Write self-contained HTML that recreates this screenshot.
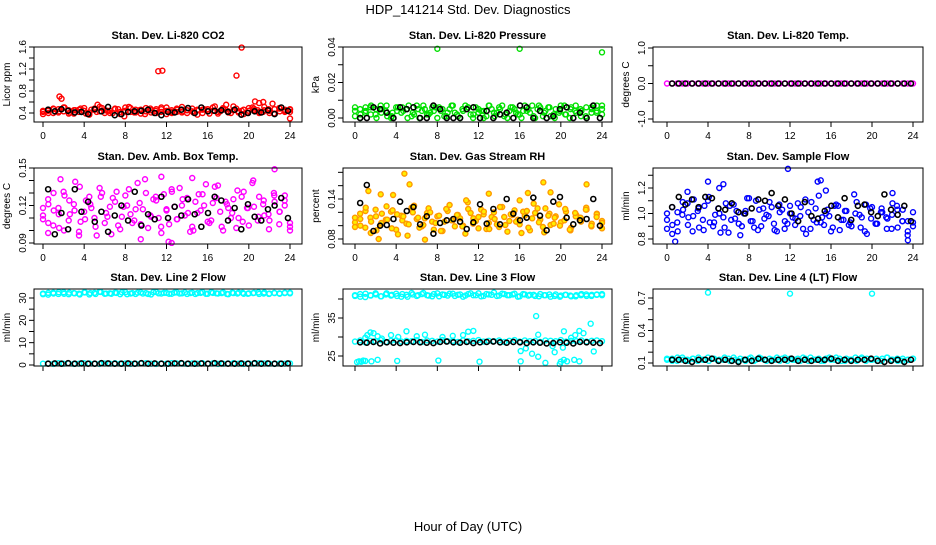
<!DOCTYPE html>
<html><head><meta charset="utf-8"><style>
html,body{margin:0;padding:0;background:#fff;}
svg text{font-family:"Liberation Sans",Arial,sans-serif;}
</style></head><body>
<svg id="chart" width="936" height="540" viewBox="0 0 936 540" xmlns="http://www.w3.org/2000/svg">
<rect width="936" height="540" fill="#fff"/>
<text x="468" y="14" font-size="13" text-anchor="middle">HDP_141214  Std. Dev. Diagnostics</text>
<text x="468" y="531" font-size="13" text-anchor="middle">Hour of Day (UTC)</text>
</svg>
<script>
// ---- data ----
const xTicks = [0,4,8,12,16,20,24];
const co2RedA = [0.42,0.46,0.40,0.47,0.43,0.45,0.39,0.46,0.44,0.41,0.48,0.43,0.45,0.40,0.47,0.42,0.44,0.49,0.41,0.46,0.43,0.45,0.40,0.47,0.44,0.42,0.48,0.41,0.45,0.43,0.46,0.40,0.47,0.44,0.42,0.49,0.43,0.45,0.41,0.46,0.44,0.48,0.42,0.45,0.40,0.47,0.43,0.46,0.42];
const co2RedB = [0.38,0.44,0.48,0.41,0.50,0.39,0.45,0.42,0.49,0.37,0.46,0.51,0.40,0.44,0.48,0.38,0.50,0.42,0.46,0.39,0.49,0.41,0.47,0.50,0.38,0.45,0.42,0.51,0.40,0.48,0.37,0.46,0.44,0.50,0.39,0.47,0.41,0.52,0.43,0.38,0.49,0.45,0.40,0.51,0.44,0.39,0.48,0.42,0.47];
const co2RedC = [0.44,0.40,0.47,0.43,0.50,0.41,0.45,0.48,0.39,0.46,0.42,0.49,0.44,0.40,0.47,0.43,0.51,0.41,0.45,0.38,0.48,0.44,0.42,0.50,0.40,0.46,0.43,0.49,0.41,0.45,0.47,0.39,0.52,0.43,0.46,0.40,0.48,0.44,0.41,0.50,0.45,0.42,0.47,0.39,0.49,0.44,0.46];
const co2Outliers = [[1.6,0.70],[1.8,0.66],[11.2,1.16],[11.6,1.17],[18.8,1.08],[19.3,1.59],[20.6,0.61],[21.0,0.58],[21.4,0.60],[22.3,0.57],[17.8,0.55],[24.0,0.30],[5.3,0.55],[7.9,0.34]];
const co2Black = [0.46,0.43,0.47,0.44,0.41,0.42,0.38,0.47,0.43,0.51,0.36,0.38,0.42,0.43,0.44,0.46,0.40,0.36,0.42,0.41,0.46,0.49,0.40,0.50,0.43,0.44,0.45,0.42,0.46,0.37,0.40,0.43,0.41,0.45,0.38,0.50,0.44];

const presGreenA = [0.001,0.005,0.003,0.006,0.002,0.007,0.004,0.000,0.006,0.003,0.005,0.001,0.007,0.004,0.002,0.006,0.000,0.005,0.003,0.007,0.001,0.004,0.006,0.002,0.005,0.000,0.007,0.003,0.006,0.001,0.004,0.005,0.002,0.007,0.003,0.000,0.006,0.004,0.001,0.005,0.007,0.002,0.006,0.003,0.004,0.000,0.005,0.007,0.002];
const presGreenB = [0.004,0.000,0.006,0.002,0.005,0.003,0.007,0.001,0.004,0.006,0.000,0.003,0.005,0.007,0.002,0.004,0.006,0.001,0.005,0.003,0.000,0.007,0.002,0.006,0.004,0.001,0.005,0.003,0.007,0.000,0.006,0.002,0.004,0.005,0.001,0.007,0.003,0.006,0.000,0.004,0.002,0.005,0.007,0.001,0.006,0.003,0.004,0.005];
const presGreenC = [0.006,0.002,0.004,0.007,0.000,0.005,0.001,0.003,0.006,0.004,0.007,0.002,0.000,0.005,0.003,0.006,0.004,0.001,0.007,0.002,0.005,0.006,0.000,0.003,0.004,0.007,0.001,0.005,0.002,0.006,0.003,0.000,0.004,0.007,0.005,0.001,0.006,0.002,0.003,0.007,0.000,0.004,0.005,0.001,0.006,0.003,0.007];
const presOutliers = [[8,0.039],[16,0.039],[24,0.037]];
const presBlack = [0.000,0.000,0.006,0.005,0.003,0.000,0.006,0.005,0.006,0.000,0.000,0.007,0.005,0.000,0.000,0.000,0.005,0.006,0.000,0.004,0.000,0.002,0.003,0.000,0.007,0.006,0.000,0.004,0.000,0.001,0.005,0.006,0.000,0.003,0.000,0.007,0.000];

const tempMagenta = [0,0,0,0,0,0,0,0,0,0,0,0,0,0,0,0,0,0,0,0,0,0,0,0,0,0,0,0,0,0,0,0,0,0,0,0,0,0,0,0,0,0,0,0,0,0,0,0,0];
const tempBlack = [0,0,0,0,0,0,0,0,0,0,0,0,0,0,0,0,0,0,0,0,0,0,0,0,0,0,0,0,0,0,0,0,0,0,0,0,0];

const ambA = [0.112,0.125,0.104,0.118,0.131,0.108,0.121,0.099,0.115,0.127,0.110,0.134,0.106,0.119,0.123,0.101,0.128,0.113,0.117,0.105,0.130,0.111,0.124,0.098,0.116,0.133,0.109,0.120,0.126,0.103,0.114,0.129,0.107,0.122,0.136,0.100,0.118,0.125,0.110,0.131,0.104,0.119,0.127,0.112,0.108,0.123,0.115,0.128,0.103];
const ambB = [0.118,0.106,0.130,0.113,0.100,0.124,0.116,0.135,0.109,0.121,0.103,0.127,0.114,0.097,0.131,0.111,0.120,0.106,0.138,0.117,0.102,0.125,0.110,0.129,0.105,0.119,0.134,0.112,0.099,0.123,0.116,0.137,0.108,0.126,0.103,0.121,0.114,0.132,0.107,0.118,0.140,0.111,0.124,0.101,0.128,0.115,0.120,0.106];
const ambC = [0.109,0.121,0.116,0.102,0.128,0.113,0.139,0.107,0.124,0.118,0.096,0.130,0.111,0.126,0.104,0.119,0.133,0.108,0.122,0.141,0.112,0.127,0.103,0.117,0.131,0.109,0.125,0.114,0.100,0.129,0.120,0.106,0.135,0.115,0.123,0.110,0.102,0.127,0.118,0.138,0.108,0.121,0.113,0.130,0.105,0.124,0.100];
const ambOutliers = [[1.7,0.141],[12.2,0.091],[12.5,0.090],[22.5,0.149],[11.5,0.143],[9.5,0.093],[3.5,0.096],[14.5,0.142],[0.5,0.098]];
const ambBlack = [0.133,0.097,0.114,0.101,0.133,0.115,0.123,0.107,0.115,0.099,0.112,0.120,0.108,0.131,0.104,0.113,0.109,0.127,0.110,0.119,0.112,0.125,0.113,0.103,0.114,0.127,0.124,0.108,0.118,0.101,0.121,0.111,0.108,0.117,0.120,0.126,0.110];

const rhA = [0.105,0.118,0.097,0.112,0.124,0.101,0.109,0.121,0.094,0.115,0.103,0.127,0.110,0.099,0.119,0.106,0.114,0.092,0.122,0.108,0.116,0.100,0.125,0.111,0.096,0.117,0.104,0.120,0.098,0.113,0.107,0.123,0.102,0.115,0.093,0.119,0.109,0.126,0.101,0.114,0.105,0.121,0.097,0.116,0.110,0.124,0.103,0.118,0.107];
const rhB = [0.098,0.110,0.122,0.089,0.114,0.104,0.129,0.096,0.117,0.108,0.085,0.120,0.112,0.101,0.126,0.094,0.115,0.106,0.131,0.099,0.111,0.088,0.119,0.107,0.124,0.095,0.113,0.102,0.128,0.091,0.116,0.109,0.121,0.097,0.133,0.105,0.090,0.118,0.112,0.100,0.125,0.093,0.114,0.106,0.127,0.099,0.117,0.104];
const rhC = [0.112,0.100,0.127,0.106,0.093,0.118,0.109,0.123,0.087,0.114,0.102,0.130,0.097,0.111,0.120,0.104,0.092,0.125,0.108,0.116,0.099,0.135,0.103,0.113,0.121,0.095,0.110,0.128,0.101,0.117,0.106,0.089,0.122,0.111,0.126,0.098,0.115,0.103,0.132,0.108,0.094,0.119,0.112,0.124,0.100,0.113,0.096];
const rhOutliers = [[4.8,0.178],[1.3,0.152],[5.3,0.162],[3.7,0.146],[18.3,0.165],[22.5,0.162],[19.0,0.150],[2.5,0.147],[13.0,0.148],[10.8,0.138],[16.0,0.138],[16.8,0.149],[2.3,0.080],[6.8,0.079]];
const rhBlack = [0.134,0.161,0.092,0.100,0.101,0.110,0.136,0.122,0.128,0.102,0.114,0.088,0.104,0.108,0.110,0.106,0.095,0.105,0.132,0.103,0.125,0.102,0.140,0.118,0.108,0.112,0.142,0.115,0.093,0.136,0.143,0.112,0.102,0.108,0.110,0.140,0.100];

const flowA = [0.88,1.05,0.93,0.99,1.08,0.86,1.02,0.95,1.10,0.90,1.04,0.97,0.85,1.07,0.92,1.00,1.12,0.89,1.03,0.96,1.09,0.87,1.01,0.94,1.06,0.91,0.98,1.11,0.88,1.04,0.93,1.00,0.86,1.07,0.95,1.02,0.90,1.09,0.97,0.84,1.05,0.92,1.01,0.96,1.08,0.89,1.03,0.94,0.90];
const flowB = [0.95,0.84,1.01,1.09,0.91,0.98,1.04,0.87,1.13,0.93,1.00,0.89,1.06,0.96,0.83,1.02,0.94,1.10,0.90,0.99,1.05,0.86,1.03,0.92,0.97,1.08,0.88,1.01,0.95,1.14,0.91,0.98,1.06,0.87,1.02,0.93,1.00,0.89,1.07,0.96,0.92,1.04,0.88,0.99,1.03,0.94,0.86,1.01];
const flowC = [1.00,0.91,0.86,1.03,0.97,1.11,0.89,1.06,0.93,0.99,0.85,1.08,0.95,1.02,0.90,1.12,0.94,0.87,1.04,0.98,0.92,1.07,0.88,1.00,0.96,1.05,0.84,1.09,0.93,0.97,1.03,0.89,1.06,0.95,0.91,1.15,0.99,0.86,1.04,0.92,1.01,0.97,0.88,1.06,0.94,0.83,0.93];
const flowOutliers = [[4.0,1.25],[5.5,1.23],[15.0,1.26],[14.7,1.25],[11.8,1.35],[5.1,1.20],[2.0,1.17],[0.8,0.78],[23.5,0.79],[22.0,1.16],[15.5,1.18]];
const flowBlack = [1.05,1.13,1.07,1.11,1.05,1.13,1.12,1.04,1.03,1.08,1.01,1.00,1.04,1.11,1.10,1.16,1.06,1.11,1.00,0.94,1.09,0.98,0.96,1.02,1.06,0.97,1.12,0.95,1.06,1.07,1.01,0.98,1.15,1.03,0.99,1.06,0.94];

const line2TopA = [32.0,31.5,32.4,31.8,32.6,31.7,32.2,31.9,32.5,31.6,32.3,32.8,31.9,32.1,32.4,31.7,32.6,32.0,31.8,32.5,32.2,31.6,32.7,32.0,32.3,31.9,32.5,32.1,31.8,32.4,32.2,32.6,31.9,32.3,32.0,32.5,31.7,32.2,32.4,31.9,32.1,32.3,31.8,32.5,32.0,32.2,31.9,32.4,32.1];
const line2TopB = [31.7,32.3,32.0,32.6,31.9,32.4,32.1,31.6,32.5,32.2,31.8,32.7,32.0,31.9,32.3,32.5,31.7,32.2,32.4,32.0,31.8,32.6,32.1,32.3,31.9,32.4,32.0,32.5,32.2,31.8,32.3,31.9,32.6,32.1,32.2,31.8,32.4,32.0,32.3,31.9,32.2,32.5,32.0,31.8,32.3,32.1,32.2,32.4];
const line2Bottom = [0.6,0.7,0.5,0.8,0.6,0.7,0.5,0.6,0.8,0.7,0.6,0.5,0.7,0.6,0.8,0.6,0.7,0.5,0.6,0.7,0.8,0.6,0.5,0.7,0.6,0.8,0.7,0.6,0.5,0.7,0.6,0.8,0.6,0.7,0.5,0.6,0.7,0.8,0.6,0.5,0.7,0.6,0.8,0.7,0.6,0.5,0.7,0.6,0.7];
const line2Black = [0.6,0.7,0.6,0.8,0.6,0.7,0.6,0.6,0.8,0.7,0.6,0.6,0.7,0.6,0.8,0.6,0.7,0.6,0.6,0.7,0.8,0.6,0.6,0.7,0.6,0.8,0.7,0.6,0.6,0.7,0.6,0.8,0.6,0.7,0.6,0.6,0.7];

const line3TopA = [40.8,41.3,40.5,41.0,41.5,40.7,41.2,40.9,41.4,40.6,41.1,41.6,40.8,41.3,41.0,40.7,41.5,41.2,40.9,41.4,41.1,40.6,41.3,41.0,41.5,40.8,41.2,41.7,40.9,41.3,41.0,41.4,40.7,41.2,41.1,40.8,41.3,41.0,40.6,41.2,40.9,41.1,40.7,41.0,41.3,40.8,41.1,41.2,41.0];
const line3TopB = [41.0,40.6,41.4,40.9,41.2,40.7,41.5,41.1,40.8,41.3,40.6,41.2,41.0,41.6,40.9,41.3,40.7,41.1,41.4,40.8,41.2,40.9,41.5,41.0,40.7,41.3,41.1,40.8,41.4,41.0,41.2,40.6,41.3,40.9,41.1,40.7,41.0,41.2,40.8,40.6,41.1,40.9,40.7,41.0,41.2,40.8,41.1,41.3];
const line3Mid = [28.8,29.1,28.6,29.0,28.9,29.2,28.7,29.0,29.1,28.8,29.0,28.9,29.2,28.7,29.1,29.0,28.8,29.2,28.9,29.0,28.7,29.1,28.9,29.0,29.2,28.8,29.0,28.9,29.1,28.7,29.0,29.2,28.8,29.1,28.9,29.0,28.7,29.1,29.0,28.9,29.2,28.8,29.0,28.9,29.1,28.8,29.0,29.1,28.9];
const line3Scatter = [[1.2,30.5],[1.5,31.2],[1.8,31.0],[2.2,30.2],[1.0,29.8],[2.6,29.6],[3.5,30.5],[4.2,30.0],[5.0,31.5],[6.0,30.2],[6.8,30.6],[8.5,30.0],[9.5,30.3],[10.5,30.5],[11.0,31.4],[11.5,31.6],[17.6,35.5],[17.8,30.6],[16.1,26.3],[16.6,27.0],[17.2,25.6],[17.8,24.8],[18.5,23.2],[19.2,27.6],[19.4,26.0],[20.2,27.2],[20.3,31.5],[21.0,29.8],[21.4,30.5],[21.8,31.6],[22.2,31.0],[22.9,33.5],[23.2,26.2]];
const line3Low = [[0.2,23.4],[0.4,23.6],[0.6,23.5],[0.8,23.8],[1.0,23.7],[1.6,23.6],[2.2,24.0],[4.1,23.7],[8.1,23.8],[12.1,23.5],[16.1,23.6],[19.9,22.9],[20.0,23.5],[20.3,24.0],[20.6,23.6],[21.3,24.0],[21.8,23.6]];
const line3Black = [28.6,28.5,28.7,28.3,28.6,28.5,28.4,28.6,28.7,28.6,28.5,28.4,28.7,28.8,28.6,28.5,28.7,28.4,28.6,28.7,28.8,28.6,28.5,28.7,28.6,28.4,28.6,28.5,28.3,28.4,28.6,28.5,28.3,28.7,28.6,28.5,28.4];

const line4A = [0.13,0.14,0.12,0.15,0.13,0.14,0.12,0.13,0.15,0.14,0.12,0.13,0.14,0.15,0.12,0.13,0.14,0.12,0.15,0.13,0.14,0.13,0.12,0.15,0.14,0.13,0.12,0.14,0.15,0.13,0.12,0.14,0.13,0.15,0.12,0.14,0.13,0.12,0.15,0.14,0.13,0.12,0.14,0.15,0.13,0.12,0.14,0.13,0.14];
const line4B = [0.14,0.12,0.15,0.13,0.12,0.14,0.15,0.13,0.12,0.14,0.13,0.15,0.12,0.13,0.14,0.12,0.15,0.13,0.14,0.12,0.13,0.15,0.14,0.12,0.13,0.14,0.15,0.12,0.13,0.14,0.12,0.15,0.13,0.14,0.12,0.13,0.15,0.14,0.12,0.13,0.14,0.12,0.15,0.13,0.14,0.12,0.13,0.14];
const line4Outliers = [[4,0.75],[12,0.74],[20,0.74]];
const line4Black = [0.13,0.13,0.12,0.11,0.13,0.13,0.14,0.12,0.13,0.12,0.11,0.13,0.12,0.14,0.13,0.12,0.13,0.13,0.14,0.12,0.13,0.12,0.13,0.13,0.14,0.12,0.13,0.12,0.13,0.13,0.14,0.12,0.11,0.12,0.13,0.11,0.13];

// ---- layout (not data) ----
const NS = "http://www.w3.org/2000/svg";
const svg = document.getElementById('chart');
function el(tag, attrs, parent){
  const e = document.createElementNS(NS, tag);
  for (const k in attrs) e.setAttribute(k, attrs[k]);
  (parent||svg).appendChild(e);
  return e;
}
const cols = [{l:34,r:302,x0:43,x24:290},{l:343,r:612,x0:355,x24:602},{l:653,r:923,x0:667,x24:913}];
const rows = [{t:47,b:122},{t:168,b:244},{t:289,b:366}];

function drawPanel(p){
  const c = cols[p.col], rw = rows[p.row];
  const g = el('g', {});
  
  
  const xs = h => c.x0 + h/24*(c.x24-c.x0);
  const ys = v => p.ref[1] + (v-p.ref[0])/(p.ref[2]-p.ref[0])*(p.ref[3]-p.ref[1]);
  const title = el('text', {x:(c.l+c.r)/2, y:rw.t-8, 'font-size':11, 'font-weight':'bold', 'text-anchor':'middle'}, g);
  title.textContent = p.title;
  
  
  const yl = el('text', {x:c.l-24, y:(rw.t+rw.b)/2, 'font-size':10, 'text-anchor':'middle', transform:`rotate(-90 ${c.l-24} ${(rw.t+rw.b)/2})`}, g);
  yl.textContent = p.ylab;
  
  
  // x axis
  const xa = el('g', {}, g);
  
  
  el('line', {x1:xs(xTicks[0]), x2:xs(xTicks[xTicks.length-1]), y1:rw.b, y2:rw.b, stroke:'#000'}, xa);
  xTicks.forEach(t => {
    el('line', {x1:xs(t), x2:xs(t), y1:rw.b, y2:rw.b+5, stroke:'#000'}, xa);
    if (p.row < 2){
      const tx = el('text', {x:xs(t), y:rw.b+17, 'font-size':10, 'text-anchor':'middle'}, xa);
      tx.textContent = t;
      
      
    }
  });
  // y axis
  const ya = el('g', {}, g);
  
  
  p.yticks.forEach(t => el('line', {x1:c.l-5, x2:c.l, y1:ys(t), y2:ys(t), stroke:'#000'}, ya));
  p.ylabels.forEach(t => {
    const y = ys(t);
    const tx = el('text', {x:c.l-8, y:y, 'font-size':10, 'text-anchor':'middle', transform:`rotate(-90 ${c.l-8} ${y})`}, ya);
    tx.textContent = t.toFixed(p.dec);
    
    
  });
  // points
  const clip = 'clip'+p.name;
  const cp = el('clipPath', {id:clip}, g);
  el('rect', {x:c.l, y:rw.t-4, width:c.r-c.l+4, height:rw.b-rw.t+6}, cp);
  const pts = el('g', {'clip-path':`url(#${clip})`}, g);
  function dot(h, v, color, fill, sw, name){
    const ci = el('circle', {cx:xs(h), cy:ys(v), r:2.5, fill:fill, stroke:color, 'stroke-width':sw}, pts);
    
    
  }
  p.series.forEach(s => {
    s.vals.forEach((v,i) => dot(i*24/(s.vals.length-1), v, p.color, p.fill, 1.4, 'data-point'));
  });
  (p.extra||[]).forEach(arr => arr.forEach(d => dot(d[0], d[1], p.color, p.fill, 1.4, 'outlier-point')));
  p.black.forEach((v,i) => dot(0.5 + i*23.3/(p.black.length-1), v, '#000', 'none', 1.6, 'mean-point'));
  // box
  const bx = el('rect', {x:c.l, y:rw.t, width:c.r-c.l, height:rw.b-rw.t, fill:'none', stroke:'#000'}, g);
  
  
}

drawPanel({name:'panel-co2', col:0,row:0,title:'Stan. Dev. Li-820 CO2',ylab:'Licor ppm',ref:[0.4,113,1.6,47],
  yticks:[0.4,0.6,0.8,1.0,1.2,1.4,1.6], ylabels:[0.4,0.8,1.2,1.6], dec:1, color:'#ff0000', fill:'none',
  series:[{vals:co2RedA},{vals:co2RedB},{vals:co2RedC}], extra:[co2Outliers], black:co2Black});
drawPanel({name:'panel-pressure', col:1,row:0,title:'Stan. Dev. Li-820 Pressure',ylab:'kPa',ref:[0,118,0.04,47],
  yticks:[0,0.01,0.02,0.03,0.04], ylabels:[0,0.02,0.04], dec:2, color:'#00e000', fill:'none',
  series:[{vals:presGreenA},{vals:presGreenB},{vals:presGreenC}], extra:[presOutliers], black:presBlack});
drawPanel({name:'panel-temp', col:2,row:0,title:'Stan. Dev. Li-820 Temp.',ylab:'degrees C',ref:[-1,119,1,48],
  yticks:[-1,-0.5,0,0.5,1], ylabels:[-1,0,1], dec:1, color:'#ff00ff', fill:'none',
  series:[{vals:tempMagenta}], extra:[], black:tempBlack});
drawPanel({name:'panel-ambbox', col:0,row:1,title:'Stan. Dev. Amb. Box Temp.',ylab:'degrees C',ref:[0.09,243,0.15,168],
  yticks:[0.09,0.10,0.11,0.12,0.13,0.14,0.15], ylabels:[0.09,0.12,0.15], dec:2, color:'#ff00ff', fill:'none',
  series:[{vals:ambA},{vals:ambB},{vals:ambC}], extra:[ambOutliers], black:ambBlack});
drawPanel({name:'panel-rh', col:1,row:1,title:'Stan. Dev. Gas Stream RH',ylab:'percent',ref:[0.08,239,0.14,199],
  yticks:[0.08,0.10,0.12,0.14,0.16,0.18], ylabels:[0.08,0.14], dec:2, color:'#ff9900', fill:'#ffee00',
  series:[{vals:rhA},{vals:rhB},{vals:rhC}], extra:[rhOutliers], black:rhBlack});
drawPanel({name:'panel-sampleflow', col:2,row:1,title:'Stan. Dev. Sample Flow',ylab:'ml/min',ref:[0.8,239,1.2,188],
  yticks:[0.8,0.9,1.0,1.1,1.2,1.3], ylabels:[0.8,1.0,1.2], dec:1, color:'#0000ff', fill:'none',
  series:[{vals:flowA},{vals:flowB},{vals:flowC}], extra:[flowOutliers], black:flowBlack});
drawPanel({name:'panel-line2', col:0,row:2,title:'Stan. Dev. Line 2 Flow',ylab:'ml/min',ref:[0,365,30,298],
  yticks:[0,5,10,15,20,25,30], ylabels:[0,10,20,30], dec:0, color:'#00ffff', fill:'none',
  series:[{vals:line2TopA},{vals:line2TopB},{vals:line2Bottom}], extra:[], black:line2Black});
drawPanel({name:'panel-line3', col:1,row:2,title:'Stan. Dev. Line 3 Flow',ylab:'ml/min',ref:[25,356,35,318],
  yticks:[25,30,35,40], ylabels:[25,35], dec:0, color:'#00ffff', fill:'none',
  series:[{vals:line3TopA},{vals:line3TopB},{vals:line3Mid}], extra:[line3Scatter,line3Low], black:line3Black});
drawPanel({name:'panel-line4', col:2,row:2,title:'Stan. Dev. Line 4 (LT) Flow',ylab:'ml/min',ref:[0.1,363,0.7,298],
  yticks:[0.1,0.2,0.3,0.4,0.5,0.6,0.7], ylabels:[0.1,0.4,0.7], dec:1, color:'#00ffff', fill:'none',
  series:[{vals:line4A},{vals:line4B}], extra:[line4Outliers], black:line4Black});
</script>
</body></html>
